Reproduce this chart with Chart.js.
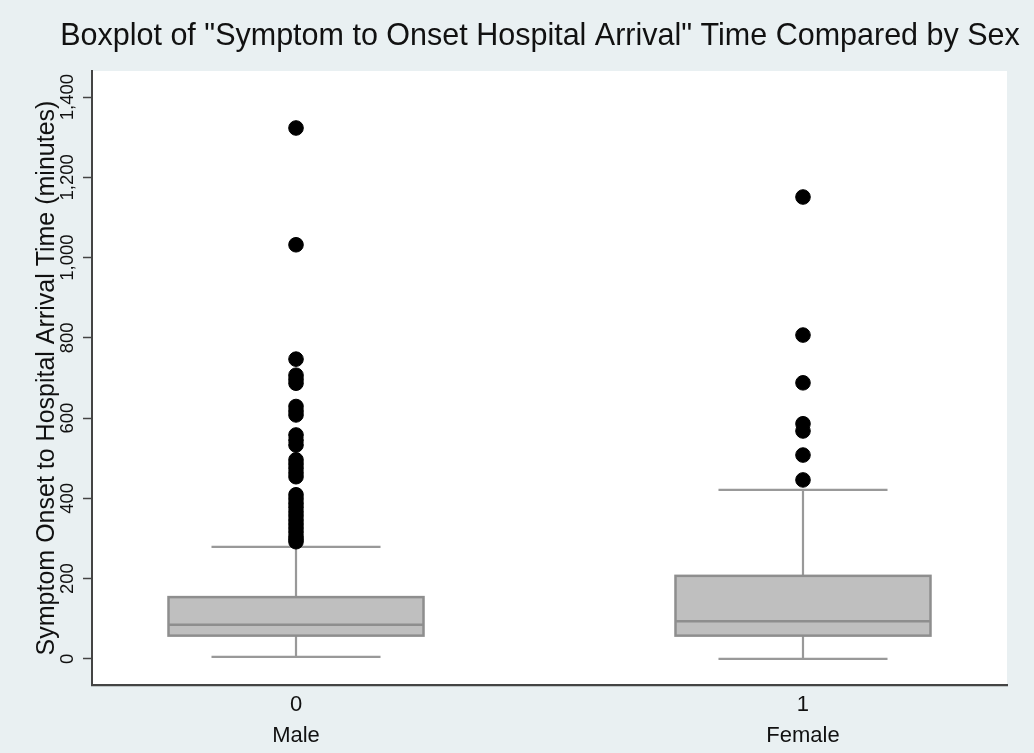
<!DOCTYPE html>
<html>
<head>
<meta charset="utf-8">
<script src="https://cdn.jsdelivr.net/npm/chart.js@4"></script>
<style>
  body { margin: 0; background: #e9f0f2; }
  canvas { display: block; }
</style>
</head>
<body>
<canvas id="boxChart" width="1034" height="753"></canvas>
<script>
// groups on the x axis
const groups = [0, 1];
const groupNames = ['Male', 'Female'];

// box summaries (minutes)
const q1 = [58, 58];
const medians = [85, 94];
const q3 = [154, 207];
const whiskerLow = [5, 0];
const whiskerHigh = [279, 421];

// outside values
const maleOutliers = [292, 298, 305, 316, 326, 336, 346, 357, 367, 378, 388, 399, 409, 454, 464, 475, 486, 496, 533, 545, 558, 608, 618, 629, 687, 697, 707, 747, 1032, 1323];
const femaleOutliers = [446, 508, 568, 586, 688, 807, 1151];

const yTicks = [0, 200, 400, 600, 800, 1000, 1200, 1400];

const BOX_HALF = 0.2515;
const CAP_HALF = 0.1667;
const FONT = '"Liberation Sans", Arial, sans-serif';

// fills the page background + white plot region
const backdrop = {
    id: 'backdrop',
    beforeDraw(chart) {
        const { ctx, chartArea: a } = chart;
        ctx.save();
        ctx.fillStyle = '#e9f0f2';
        ctx.fillRect(0, 0, chart.width, chart.height);
        ctx.fillStyle = '#ffffff';
        ctx.fillRect(a.left, a.top, a.right - a.left, a.bottom - a.top);
        ctx.restore();
    }
};

// box, median and whiskers via the chart scales
const boxes = {
    id: 'boxes',
    beforeDatasetsDraw(chart) {
        const { ctx, scales: { x, y } } = chart;
        ctx.save();
        groups.forEach((g, i) => {
            const cx = x.getPixelForValue(g);
            const l = x.getPixelForValue(g - BOX_HALF);
            const r = x.getPixelForValue(g + BOX_HALF);
            const cl = x.getPixelForValue(g - CAP_HALF);
            const cr = x.getPixelForValue(g + CAP_HALF);
            const yq1 = y.getPixelForValue(q1[i]);
            const yq3 = y.getPixelForValue(q3[i]);
            const ym = y.getPixelForValue(medians[i]);
            const ylo = y.getPixelForValue(whiskerLow[i]);
            const yhi = y.getPixelForValue(whiskerHigh[i]);

            // whiskers
            ctx.strokeStyle = '#999999';
            ctx.lineWidth = 2.2;
            ctx.beginPath();
            ctx.moveTo(cx, yq3); ctx.lineTo(cx, yhi);
            ctx.moveTo(cl, yhi); ctx.lineTo(cr, yhi);
            ctx.moveTo(cx, yq1); ctx.lineTo(cx, ylo);
            ctx.moveTo(cl, ylo); ctx.lineTo(cr, ylo);
            ctx.stroke();

            // box
            ctx.fillStyle = '#bfbfbf';
            ctx.fillRect(l, yq3, r - l, yq1 - yq3);
            ctx.strokeStyle = '#8e8e8e';
            ctx.lineWidth = 2.5;
            ctx.strokeRect(l, yq3, r - l, yq1 - yq3);
            ctx.beginPath();
            ctx.moveTo(l, ym); ctx.lineTo(r, ym);
            ctx.stroke();
        });
        ctx.restore();
    }
};

// title placed like the Stata graph
const topTitle = {
    id: 'topTitle',
    afterDraw(chart) {
        const ctx = chart.ctx;
        ctx.save();
        ctx.font = '30.5px ' + FONT;
        ctx.fillStyle = '#111111';
        ctx.textAlign = 'center';
        ctx.textBaseline = 'middle';
        ctx.fillText('Boxplot of "Symptom to Onset Hospital Arrival" Time Compared by Sex', 540, 37);
        ctx.restore();
    }
};

new Chart(document.getElementById('boxChart'), {
    type: 'scatter',
    data: {
        datasets: [
            {
                data: maleOutliers.map(v => ({ x: groups[0], y: v })),
                backgroundColor: '#000', borderColor: '#000', pointRadius: 7.3, pointHoverRadius: 7.3
            },
            {
                data: femaleOutliers.map(v => ({ x: groups[1], y: v })),
                backgroundColor: '#000', borderColor: '#000', pointRadius: 7.3, pointHoverRadius: 7.3
            }
        ]
    },
    options: {
        responsive: false,
        animation: false,
        devicePixelRatio: 1,
        layout: { padding: { top: 71, right: 27, left: 0, bottom: 0 } },
        plugins: {
            legend: { display: false },
            tooltip: { enabled: false }
        },
        scales: {
            x: {
                type: 'linear',
                min: -0.4024,
                max: 1.4024,
                afterBuildTicks: s => { s.ticks = groups.map(v => ({ value: v })); },
                afterFit: s => { s.height = 68; },
                grid: { display: false, drawTicks: false },
                border: { display: true, color: '#444444', width: 2.2 },
                ticks: {
                    padding: 5,
                    color: '#111111',
                    font: { family: FONT, size: 22, lineHeight: 1.4 },
                    callback: v => [String(v), groupNames[groups.indexOf(v)]]
                }
            },
            y: {
                min: -65,
                max: 1465,
                afterBuildTicks: s => { s.ticks = yTicks.map(v => ({ value: v })); },
                afterFit: s => { s.width = 92; },
                grid: { drawOnChartArea: false, drawTicks: true, tickLength: 9, tickColor: '#444444', tickWidth: 1.5 },
                border: { display: true, color: '#444444', width: 2 },
                ticks: {
                    minRotation: 90,
                    maxRotation: 90,
                    crossAlign: 'center',
                    padding: -8,
                    color: '#111111',
                    font: { family: FONT, size: 18.5 },
                    callback: v => v.toLocaleString('en-US')
                },
                title: {
                    display: true,
                    text: 'Symptom Onset to Hospital Arrival Time (minutes)',
                    color: '#111111',
                    font: { family: FONT, size: 25 },
                    padding: { top: 32, bottom: 0 }
                }
            }
        }
    },
    plugins: [backdrop, boxes, topTitle]
});
</script>
</body>
</html>
